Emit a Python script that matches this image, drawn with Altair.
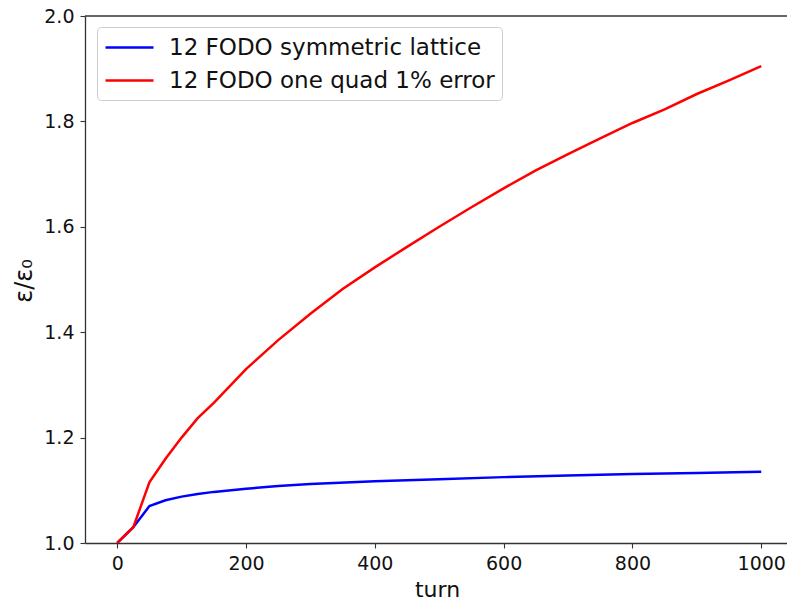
import altair as alt
import pandas as pd

turns_sym = [0, 25, 50, 75, 100, 125, 150, 200, 250, 300, 400, 500, 600, 700, 800, 900, 1000]
vals_sym = [1.0, 1.03, 1.07, 1.081, 1.088, 1.093, 1.097, 1.103, 1.108, 1.112, 1.117, 1.121, 1.125, 1.128, 1.131, 1.133, 1.135]

turns_err = [0, 25, 50, 75, 100, 125, 150, 200, 250, 300, 350, 400, 450, 500, 550, 600, 650, 700, 750, 800, 850, 900, 950, 1000]
vals_err = [1.0, 1.03, 1.115, 1.16, 1.2, 1.237, 1.266, 1.33, 1.385, 1.435, 1.482, 1.523, 1.562, 1.6, 1.637, 1.673, 1.707, 1.738, 1.768, 1.797, 1.823, 1.852, 1.878, 1.905]

series_names = ["12 FODO symmetric lattice", "12 FODO one quad 1% error"]
series_colors = ["#0000ff", "#ff0000"]

df = pd.concat([
    pd.DataFrame({"turn": turns_sym, "ratio": vals_sym, "series": series_names[0], "order": range(len(turns_sym))}),
    pd.DataFrame({"turn": turns_err, "ratio": vals_err, "series": series_names[1], "order": range(len(turns_err))}),
])

W, H = 702, 527
FONT = "DejaVu Sans"
AX = "#333333"

lines = alt.Chart(df).mark_line(strokeWidth=2.5, clip=True).encode(
    x=alt.X("turn:Q", scale=alt.Scale(domain=[-50, 1040], nice=False, zero=False),
            axis=alt.Axis(values=[0, 200, 400, 600, 800, 1000], format="d", title="turn",
                          titleX=352, titleY=46, titleBaseline="middle", titleFontSize=22)),
    y=alt.Y("ratio:Q", scale=alt.Scale(domain=[1.0, 2.0], nice=False, zero=False),
            axis=alt.Axis(values=[1.0, 1.2, 1.4, 1.6, 1.8, 2.0], format=".1f", title="ε/ε₀",
                          titleX=-61, titleY=H / 2 + 1, titleBaseline="middle", titleAngle=270,
                          titleFontSize=24)),
    color=alt.Color("series:N", scale=alt.Scale(domain=series_names, range=series_colors),
                    legend=alt.Legend(title=None, orient="none", legendX=12, legendY=11,
                                      symbolType="M-1,0L3,0", symbolSize=576, symbolStrokeWidth=2.5,
                                      labelFontSize=23, labelFont=FONT, labelColor="#111111",
                                      labelLimit=0, labelOffset=38, padding=7, rowPadding=7,
                                      strokeColor="#cccccc", fillColor="white", cornerRadius=4)),
    order="order:Q",
)

top_spine = alt.Chart(pd.DataFrame({"a": [0]})).mark_rule(color=AX, strokeWidth=1.3).encode(
    y=alt.value(0), x=alt.value(0), x2=alt.value(W)
)

chart = alt.layer(lines, top_spine).properties(
    width=W, height=H,
    autosize=alt.AutoSizeParams(type="none"),
    padding={"left": 85, "top": 16, "right": 0, "bottom": 59},
).configure_view(stroke=None).configure_axis(
    grid=False, domainColor=AX, domainWidth=1.3, tickColor=AX, tickWidth=1.1, tickSize=5,
    labelFont=FONT, labelFontSize=19, labelColor="#111111", labelPadding=6,
    titleFont=FONT, titleFontSize=20, titleColor="#111111", titleFontWeight="normal",
)

chart.save("out.html", embed_options={"renderer": "svg", "actions": False})
